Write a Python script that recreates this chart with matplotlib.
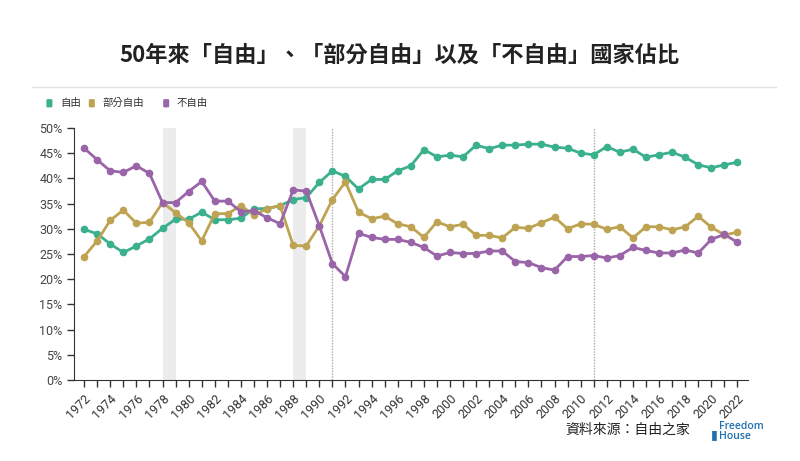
import matplotlib
matplotlib.use("Agg")
import matplotlib.pyplot as plt
from matplotlib.patches import FancyBboxPatch

plt.rcParams['font.family'] = ['Noto Sans CJK TC', 'DejaVu Sans']

years = list(range(1972, 2023))

# 自由
free = [29.9, 29.0, 27.0, 25.3, 26.6, 28.0, 30.1, 31.9, 31.9, 33.3,
        31.8, 31.8, 32.1, 34.0, 34.0, 34.6, 35.8, 36.2, 39.2, 41.5,
        40.4, 37.9, 39.8, 39.8, 41.5, 42.5, 45.7, 44.3, 44.6, 44.3,
        46.6, 45.9, 46.6, 46.6, 46.8, 46.8, 46.2, 46.0, 45.0, 44.7,
        46.3, 45.2, 45.8, 44.2, 44.7, 45.2, 44.2, 42.7, 42.1, 42.7,
        43.2]
# 部分自由
partly = [24.5, 27.6, 31.7, 33.7, 31.1, 31.3, 35.2, 33.2, 31.2, 27.6,
          33.0, 33.0, 34.6, 32.7, 34.0, 34.6, 26.7, 26.6, 30.6, 35.8,
          39.3, 33.3, 32.0, 32.5, 31.0, 30.4, 28.3, 31.4, 30.4, 30.9,
          28.7, 28.7, 28.2, 30.3, 30.1, 31.2, 32.3, 30.0, 31.0, 30.9,
          29.9, 30.4, 28.2, 30.4, 30.4, 29.8, 30.4, 32.5, 30.3, 28.8,
          29.3]
# 不自由
notfree = [46.0, 43.7, 41.5, 41.2, 42.5, 41.0, 35.2, 35.2, 37.4, 39.4,
           35.5, 35.5, 33.4, 33.6, 32.2, 31.0, 37.7, 37.5, 30.6, 23.1,
           20.5, 29.1, 28.3, 27.9, 27.9, 27.3, 26.3, 24.6, 25.3, 25.1,
           25.1, 25.6, 25.6, 23.5, 23.3, 22.3, 21.8, 24.5, 24.5, 24.7,
           24.2, 24.7, 26.3, 25.7, 25.2, 25.2, 25.8, 25.2, 27.9, 28.9,
           27.3]

labels = ['自由', '部分自由', '不自由']
colors = ['#3bb08c', '#bda352', '#9a64a8']
bands = [(1978, 1979), (1988, 1989)]
marker_years = [1991, 2011]

fig = plt.figure(figsize=(8, 4.61), dpi=100)
ax = fig.add_axes([0.0929, 0.1757, 0.842, 0.5466])

for a, b in bands:
    ax.axvspan(a, b, color='#ececec', lw=0, zorder=0)
for yr in marker_years:
    ax.axvline(yr, color='#aaaaaa', lw=1, ls=(0, (1, 1)), zorder=1)

for ys, c in zip([free, partly, notfree], colors):
    ax.plot(years, ys, color=c, lw=2, marker='o', ms=4.5, zorder=3)

ax.set_xlim(1971.25, 2022.8)
ax.set_ylim(0, 50)
ax.set_yticks(range(0, 51, 5))
ax.set_yticklabels([f'{v}%' for v in range(0, 51, 5)], family='Roboto',
                   fontsize=9, color='#444444')
ax.set_xticks(years, minor=True)
ax.set_xticks(range(1972, 2023, 2))
ax.set_xticklabels([str(y) for y in range(1972, 2023, 2)], rotation=45,
                   ha='right', rotation_mode='anchor', family='Roboto',
                   fontsize=9, color='#333333')
ax.tick_params(axis='x', which='both', length=5, width=1, color='#333333')
ax.tick_params(axis='y', length=5, width=1, color='#333333')
for s in ['top', 'right']:
    ax.spines[s].set_visible(False)
for s in ['left', 'bottom']:
    ax.spines[s].set_color('#333333')

fig.text(0.5, 0.88, '50年來「自由」、「部分自由」以及「不自由」國家佔比',
         ha='center', va='center', fontsize=16, weight='bold', color='#222222')
fig.add_artist(plt.Line2D([0.04, 0.97], [0.812, 0.812], color='#e2e2e2', lw=1,
                          transform=fig.transFigure))

# legend
leg_x = [0.058, 0.111, 0.204]
for x, lab, c in zip(leg_x, labels, colors):
    fig.add_artist(FancyBboxPatch((x, 0.767), 0.0075, 0.018,
                                  boxstyle='round,pad=0,rounding_size=0.002',
                                  transform=fig.transFigure, color=c, lw=0))
    fig.text(x + 0.017, 0.777, lab, fontsize=7.5, va='center', color='#333333')

fig.text(0.707, 0.067, '資料來源：自由之家', fontsize=10, va='center',
         color='#222222')
fig.text(0.899, 0.064, 'Freedom\nHouse', fontsize=7.5, va='center',
         color='#1f6fb2', family='Open Sans', weight='semibold', linespacing=0.95)
fig.text(0.889, 0.058, '▮', fontsize=9, va='center', color='#1f6fb2',
         family='DejaVu Sans')

fig.savefig('out.png', dpi=100, facecolor='white')
